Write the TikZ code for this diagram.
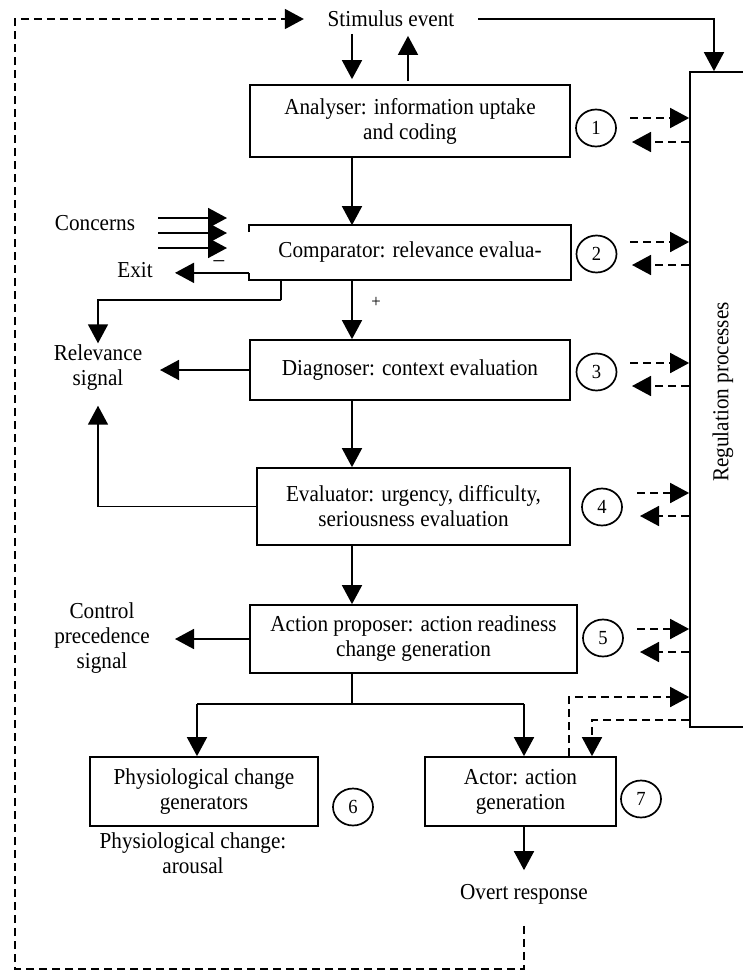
\documentclass[tikz,border=0pt]{standalone}
\usepackage{fontspec}
\setmainfont{Liberation Serif}[FakeStretch=0.93]
\usetikzlibrary{arrows.meta,shapes.geometric}
\begin{document}
\begin{tikzpicture}[x=1pt,y=-1pt,line width=1.7pt,
  font=\fontsize{22.8}{25}\selectfont,
  bx/.style={draw,align=center,inner sep=0pt},
  txt/.style={align=center,inner sep=1pt},
  arr/.style={-{Triangle[length=19pt,width=20pt]}},
  dsh/.style={dash pattern=on 8pt off 5pt},
  num/.style={draw,ellipse,minimum width=40pt,minimum height=37pt,inner sep=0pt,font=\fontsize{20}{22}\selectfont}]
\useasboundingbox (0,0) rectangle (743,970);
\clip (0,0) rectangle (743,970);

% main boxes
\node[txt] (stim) at (391,19) {Stimulus event};
\node[bx,minimum width=320pt,minimum height=72pt] (ana) at (410,121) {Analyser: information uptake\\and coding};
\node[txt,inner sep=0pt,minimum width=320pt,minimum height=53pt] (comp) at (410,252.5) {Comparator: relevance evalua-};
\node[bx,minimum width=320pt,minimum height=60pt] (diag) at (410,370) {Diagnoser: context evaluation};
\node[bx,minimum width=313pt,minimum height=77pt] (eval) at (413.5,506.5) {Evaluator: urgency, difficulty,\\seriousness evaluation};
\node[bx,minimum width=327pt,minimum height=68pt] (ap) at (413.5,639) {Action proposer: action readiness\\change generation};
\node[bx,minimum width=228pt,minimum height=69pt] (phys) at (204,791.5) {Physiological change\\generators};
\node[bx,minimum width=191pt,minimum height=69pt] (actor) at (520.5,791.5) {Actor: action\\generation};
\node[draw,minimum width=90pt,minimum height=655pt,inner sep=0pt] (reg) at (735,399.5) {};
\node[rotate=90,inner sep=0pt] (regt) at (723,392) {Regulation processes};

% side labels
\node[txt] (conc) at (95,223) {Concerns};
\node[txt] (exit) at (135,270) {Exit};
\node[txt] (rel) at (98,368) {Relevance\\signal};
\node[txt] (ctrl) at (102,638) {Control\\precedence\\signal};
\node[txt] (parous) at (193,853) {Physiological change:\\arousal};
\node[txt] (overt) at (524,894) {Overt response};
\node[txt] (minus) at (219,264) {–};
\node[txt,font=\fontsize{18}{20}\selectfont] (plus) at (376,302) {+};

% numbered ellipses
\node[num] (c1) at (596,128) {1};
\node[num] (c2) at (596.5,254) {2};
\node[num] (c3) at (596.5,372) {3};
\node[num] (c4) at (602,507) {4};
\node[num] (c5) at (603,638) {5};
\node[num] (c6) at (353,807) {6};
\node[num] (c7) at (641,799) {7};

% helper coordinates
\coordinate (spine) at (352,0);
\coordinate (upx) at (408,0);
\coordinate (regin) at (714,0);
\coordinate (tipE) at (175,0);
\coordinate (brk) at (281,300);
\coordinate (relR) at (160,0);
\coordinate (ctrlR) at (175,0);
\coordinate (forkL) at (197,704);
\coordinate (forkR) at (524,704);
\coordinate (loopBR) at (524,969);
\coordinate (loopBL) at (15,969);
\coordinate (loopTL) at (15,19);

% comparator outline (left side only partly drawn)
\draw ([yshift=-7pt]comp.north west) -- (comp.north west) -- (comp.north east)
  -- (comp.south east) -- (comp.south west) -- ([yshift=7pt]comp.south west);

% top connectors
\draw[arr] ([yshift=-5pt]stim.south -| spine) -- ([yshift=5pt]ana.north -| spine);
\draw[arr] ([yshift=3pt]ana.north -| upx) -- ([yshift=-7pt]stim.south -| upx);
\draw[arr] ([xshift=22pt]stim.east) -| (reg.north -| regin);

% spine
\draw[arr] (ana.south -| spine) -- (comp.north -| spine);
\draw[arr] (comp.south -| spine) -- (diag.north -| spine);
\draw[arr] (diag.south -| spine) -- (eval.north -| spine);
\draw[arr] (eval.south -| spine) -- (ap.north -| spine);
\draw (ap.south -| spine) -- (spine |- forkL);
\draw (forkL) -- (forkR);
\draw[arr] (forkL) -- (phys.north -| forkL);
\draw[arr] (forkR) -- (actor.north -| forkR);
\draw[arr] (actor.south -| forkR) -- ([yshift=12pt]overt.north -| forkR);

% concerns and exit
\foreach \i/\yy in {1/218,2/233,3/248}{
  \coordinate (cs\i) at (158,\yy);
  \coordinate (ce\i) at (227,\yy);
  \draw[arr] (cs\i) -- (ce\i);
}
\draw[arr] ([yshift=7pt]comp.south west) -- ([yshift=7pt]comp.south west -| tipE);

% relevance signal
\draw (comp.south -| brk) -- (brk);
\draw[arr] (brk) -| (rel.north);
\draw[arr] (diag.west) -- (diag.west -| relR);
\draw[arr] (eval.west) -| ([yshift=-13pt]rel.south);

% control precedence
\draw[arr] (ap.west) -- (ap.west -| ctrlR);

% regulation dashed pairs
\foreach \i/\ya/\yb/\xa/\xb in {1/118/142/630/632,2/242/265/630/632,3/363/386/630/632,4/493/516/637/640,5/629/652/637/640}{
  \coordinate (rgA\i) at (\xa,\ya);
  \coordinate (rgB\i) at (\xb,\yb);
  \draw[dsh,arr] (rgA\i) -- (rgA\i -| reg.west);
  \draw[dsh,arr] (rgB\i -| reg.west) -- (rgB\i);
}

% actor dashed links
\coordinate (adA) at (569,697);
\coordinate (adB) at (592,720);
\draw[dsh,arr] (actor.north -| adA) -- (adA) -- (adA -| reg.west);
\draw[dsh,arr] (adB -| reg.west) -- (adB) -- (actor.north -| adB);

% feedback loop
\draw[dsh,arr] ([yshift=-20pt]overt.south -| loopBR) -- (loopBR) -- (loopBL) -- (loopTL) -- ([xshift=-22pt]stim.west);
\end{tikzpicture}
\end{document}
